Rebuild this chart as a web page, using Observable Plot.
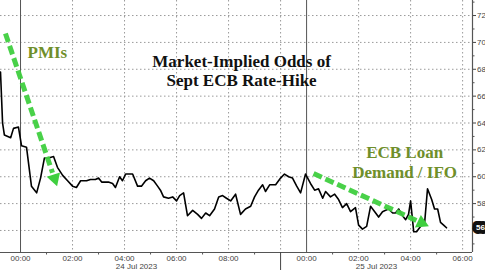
<!DOCTYPE html>
<html>
<head>
<meta charset="utf-8">
<script src="https://cdn.jsdelivr.net/npm/d3@7"></script>
<script src="https://cdn.jsdelivr.net/npm/@observablehq/plot@0.6"></script>
<style>
  html, body { margin: 0; padding: 0; background: #fff; }
  #chart { width: 485px; height: 270px; overflow: hidden; }
</style>
</head>
<body>
<div id="chart"></div>
<script>
// Time axis: hours on a compressed trading-time scale (24 Jul 00:00 = 0, 25 Jul 00:00 = 11)
const hours = [
  -0.77, -0.69, -0.62, -0.38, -0.27, -0.08, 0.04, 0.23, 0.42, 0.62, 0.77, 0.92, 1.08, 1.27, 1.42, 1.62, 1.81,
  2.00, 2.15, 2.31, 2.54, 2.69, 2.88, 3.00, 3.12, 3.38, 3.54, 3.65, 3.81, 3.92, 4.04, 4.15, 4.31, 4.50,
  4.65, 4.81, 4.96, 5.12, 5.27, 5.38, 5.50, 5.69, 5.85, 6.00, 6.12, 6.27, 6.42, 6.62, 6.81, 6.96, 7.12,
  7.27, 7.46, 7.62, 7.77, 7.92, 8.08, 8.27, 8.46, 8.65, 8.85, 9.00, 9.15, 9.31, 9.42, 9.58, 9.81, 10.00,
  10.15, 10.31, 10.46, 10.62, 10.77, 10.96, 11.15, 11.31, 11.46, 11.62, 11.73, 11.92, 12.08, 12.23, 12.38,
  12.54, 12.69, 12.88, 13.00, 13.15, 13.31, 13.46, 13.62, 13.77, 13.92, 14.04, 14.15, 14.31, 14.42, 14.54,
  14.69, 14.81, 14.92, 15.00, 15.12, 15.23, 15.38, 15.54, 15.65, 15.81, 15.92, 16.04, 16.15, 16.27, 16.38
];
const odds = [
  67.8, 64.0, 63.1, 62.9, 63.6, 63.7, 62.3, 62.2, 59.3, 58.8, 59.9, 61.4, 61.4, 61.5, 60.7, 60.1, 59.7,
  59.3, 59.2, 59.7, 59.7, 59.8, 59.8, 59.9, 59.6, 59.6, 59.5, 59.2, 60.0, 59.7, 60.2, 60.2, 60.2, 59.3,
  59.3, 59.7, 59.9, 59.7, 59.3, 59.0, 58.5, 58.4, 58.5, 58.2, 58.6, 58.8, 57.1, 57.5, 57.2, 56.9, 57.3,
  57.1, 57.6, 58.5, 58.6, 58.4, 58.2, 58.7, 57.2, 57.6, 57.8, 58.5, 59.0, 59.4, 58.9, 59.4, 59.4, 59.9,
  60.2, 60.0, 59.9, 59.3, 58.8, 60.2, 59.5, 59.0, 59.1, 58.4, 58.9, 58.5, 58.7, 58.3, 57.7,
  58.0, 57.4, 57.7, 56.4, 56.1, 56.3, 57.8, 57.4, 57.0, 57.4, 57.5, 57.6, 57.3, 57.3, 57.6,
  57.1, 56.8, 57.2, 58.2, 55.9, 55.9, 56.3, 56.6, 59.1, 58.3, 57.6, 57.6, 56.6, 56.4, 56.2
];

const yTicks = [56, 58, 60, 62, 64, 66, 68, 70, 72];
const yMinorTicks = [55, 57, 59, 61, 63, 65, 67, 69, 71, 73];
const xTicks = [0, 2, 4, 6, 8, 11, 13, 15, 17];
const xTickLabels = ["00:00", "02:00", "04:00", "06:00", "08:00", "00:00", "02:00", "04:00", "06:00"];
const xMinorTicks = [1, 3, 5, 7, 9, 12, 14, 16];
const xGrid = [2, 4, 6, 8, 10, 13, 15, 17];
const dayStarts = [0, 11];
const sessionBreak = [10];
const dateLabels = ["24 Jul 2023", "25 Jul 2023"];
const dateLabelHours = [4.46, 13.69];

const titleLines = "Market-Implied Odds of\nSept ECB Rate-Hike";
const pmiText = "PMIs";
const pmiPos = [0.27, 69.76];
const ecbText = "ECB Loan\nDemand / IFO";
const ecbPos = [14.77, 62.45];

// green annotation arrows (data space): shaft start/end and head position/angle
const arrowX1 = [-0.58, 11.27];
const arrowY1 = [70.66, 60.24];
const arrowX2 = [1.23, 15.23];
const arrowY2 = [60.3, 56.74];
const headX = [1.31, 15.42];
const headY = [59.87, 56.56];
const headAngle = [162, 115];

const data = hours.map((h, i) => ({h, v: odds[i]}));
const arrows = arrowX1.map((x1, i) => ({x1, y1: arrowY1[i], x2: arrowX2[i], y2: arrowY2[i], hx: headX[i], hy: headY[i], a: headAngle[i]}));
const dates = dateLabels.map((text, i) => ({text, x: dateLabelHours[i]}));
const last = data[data.length - 1];
const lastLabel = Math.round(last.v);

const green = "#3fcf3f";
const olive = "#6f8f2a";
const axisFont = "Liberation Sans, Arial, sans-serif";
const serif = "Liberation Serif, Times New Roman, serif";

const chart = Plot.plot({
  width: 485,
  height: 270,
  marginLeft: 0,
  marginRight: 13,
  marginTop: 0,
  marginBottom: 18,
  style: {fontFamily: axisFont, fontSize: "8px", color: "#444", background: "#fff"},
  x: {domain: [-0.77, 17.38]},
  y: {domain: [54.36, 73.12]},
  marks: [
    Plot.gridY(yTicks, {stroke: "#9a9a9a", strokeOpacity: 1, strokeDasharray: "1.5,2.5"}),
    Plot.gridX(xGrid, {stroke: "#9a9a9a", strokeOpacity: 1, strokeDasharray: "1.5,2.5"}),
    Plot.ruleX(dayStarts, {stroke: "#555", strokeWidth: 1}),
    Plot.ruleY([54.36], {stroke: "#555", strokeWidth: 1}),
    Plot.ruleX([17.38], {stroke: "#555", strokeWidth: 1.2}),
    Plot.axisX(xTicks, {tickSize: 0, tickPadding: 3, tickFormat: (d) => xTickLabels[xTicks.indexOf(d)], fill: "#444", label: null}),
    Plot.axisX(xMinorTicks, {tickSize: 2.5, text: null, stroke: "#555", label: null}),
    Plot.axisX(sessionBreak, {tickSize: 18, text: null, stroke: "#444", label: null}),
    Plot.axisY(yTicks, {anchor: "right", tickSize: 3, tickPadding: 1.5, tickFormat: (d) => (d === lastLabel ? "" : String(d)), fill: "#444", stroke: "#444", label: null}),
    Plot.axisY(yMinorTicks, {anchor: "right", tickSize: 1.5, text: null, stroke: "#555", label: null}),
    Plot.text(dates, {x: "x", frameAnchor: "bottom", text: "text", dy: 11, lineAnchor: "top", fill: "#444", fontSize: 8}),
    Plot.line(data, {x: "h", y: "v", stroke: "#000", strokeWidth: 1.6, strokeLinejoin: "round"}),
    Plot.link(arrows, {x1: "x1", y1: "y1", x2: "x2", y2: "y2", stroke: green, strokeWidth: 5, strokeDasharray: "9,4", strokeOpacity: 0.95}),
    Plot.dot(arrows, {x: "hx", y: "hy", symbol: "triangle", rotate: "a", r: 5.2, fill: green, stroke: "none"}),
    Plot.text([titleLines], {x: 8.5, y: 69.1, text: (d) => d, lineAnchor: "top", fontFamily: serif, fontWeight: "bold", fontSize: 17, lineHeight: 1.07, fill: "#111"}),
    Plot.text([pmiText], {x: pmiPos[0], y: pmiPos[1], text: (d) => d, textAnchor: "start", lineAnchor: "top", fontFamily: serif, fontWeight: "bold", fontSize: 17, fill: olive}),
    Plot.text([ecbText], {x: ecbPos[0], y: ecbPos[1], text: (d) => d, textAnchor: "middle", lineAnchor: "top", fontFamily: serif, fontWeight: "bold", fontSize: 17, lineHeight: 1.18, fill: olive}),
    Plot.text([last], {x: 17.38, y: "v", text: () => String(lastLabel), dx: 8, fill: "#fff", stroke: "#111", strokeWidth: 8, strokeLinejoin: "round", fontSize: 8, fontWeight: "bold"})
  ]
});
document.getElementById("chart").append(chart);
</script>
</body>
</html>
